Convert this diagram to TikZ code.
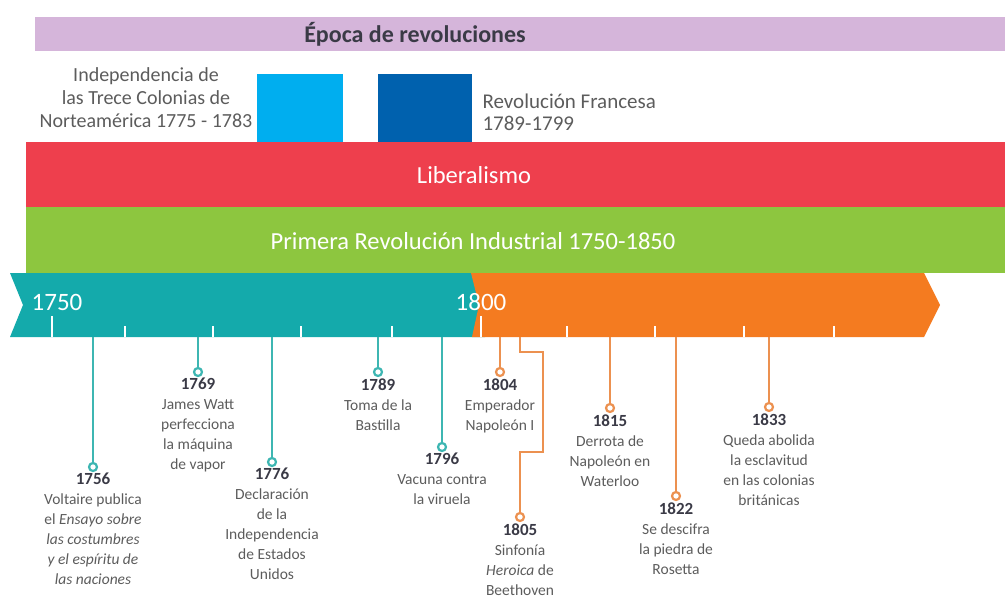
\documentclass[tikz,border=0pt]{standalone}
\usepackage{fontspec}
\setmainfont{Carlito}
\usepackage{tikz}
\usetikzlibrary{positioning}

\definecolor{bandpurple}{HTML}{D5B5DA}
\definecolor{lightblue}{HTML}{00AEEF}
\definecolor{darkblue}{HTML}{0061AE}
\definecolor{bandred}{HTML}{EE3F4D}
\definecolor{bandgreen}{HTML}{8DC63F}
\definecolor{bandteal}{HTML}{14AAAB}
\definecolor{bandorange}{HTML}{F47B20}
\definecolor{lineteal}{HTML}{3DB6B2}
\definecolor{lineorange}{HTML}{EC9150}
\definecolor{textgray}{HTML}{5C5C5C}
\definecolor{yeardark}{HTML}{3A3A46}

\tikzset{
  dot/.style={circle, draw, fill=white, inner sep=0pt, minimum size=8pt, line width=1.6pt},
  evtext/.style={align=center, text=textgray, font=\fontsize{15.5}{20}\selectfont, inner sep=1pt},
  tealline/.style={draw=lineteal, line width=2.2pt},
  orangeline/.style={draw=lineorange, line width=2.2pt},
  bandtext/.style={text=white, font=\fontsize{24.5}{28}\selectfont},
  yeartext/.style={text=white, font=\fontsize{25}{28}\selectfont},
}

\begin{document}
\begin{tikzpicture}[x=1pt,y=-1pt]
\useasboundingbox (0,0) rectangle (1005,615);

% bands
\fill[bandpurple] (35,17) rectangle (1005,51);
\fill[lightblue] (257,74) rectangle (343,142);
\fill[darkblue] (378,74) rectangle (472,142);
\fill[bandred] (26,142) rectangle (1005,207);
\fill[bandgreen] (26,207) rectangle (1005,273);

\node[font=\fontsize{24}{28}\selectfont\bfseries, text=yeardark] (epoca) at (415,34) {Época de revoluciones};
\node[align=center, text=textgray, font=\fontsize{20}{23}\selectfont] (indep) at (146,98)
  {Independencia de\\las Trece Colonias de\\Norteamérica 1775 - 1783};
\node[align=left, text=textgray, font=\fontsize{21}{22}\selectfont, anchor=west] (revfr) at (479,112)
  {Revolución Francesa\\1789-1799};
\node[bandtext] (liberal) at (474,175) {Liberalismo};
\node[bandtext] (industrial) at (473,241) {Primera Revolución Industrial 1750-1850};

% timeline
\fill[bandteal] (10,273) -- (485,273) -- (485,337) -- (10,337) -- (23,305) -- cycle;
\fill[bandorange] (471,273) -- (924,273) -- (940,305) -- (924,337) -- (472,337) -- (479,305) -- cycle;

\foreach \x in {125,213,301,392,567,655,744,834}
   \draw[white, line width=2.4pt] (\x,326) -- (\x,337);
\foreach \x in {52,481}
   \draw[white, line width=2.4pt] (\x,316) -- (\x,337);

\node[yeartext] (y1750) at (57,302) {1750};
\node[yeartext] (y1800) at (481,302) {1800};

% events
\foreach \x/\y/\yr/\ln/\txt in {
  93/467/1756/tealline/{Voltaire publica\\el \textit{Ensayo sobre}\\\textit{las costumbres}\\\textit{y el espíritu de}\\\textit{las naciones}},
  198/372/1769/tealline/{James Watt\\perfecciona\\la máquina\\de vapor},
  272/462/1776/tealline/{Declaración\\de la\\Independencia\\de Estados\\Unidos},
  378/372/1789/tealline/{Toma de la\\Bastilla},
  442/447/1796/tealline/{Vacuna contra\\la viruela},
  500/372/1804/orangeline/{Emperador\\Napoleón I},
  610/408/1815/orangeline/{Derrota de\\Napoleón en\\Waterloo},
  676/496/1822/orangeline/{Se descifra\\la piedra de\\Rosetta},
  769/407/1833/orangeline/{Queda abolida\\la esclavitud\\en las colonias\\británicas}}
{
  \coordinate (t\yr) at (\x,337);
  \node[dot, \ln] (d\yr) at (\x,\y) {};
  \draw[\ln] (t\yr) -- (d\yr);
  \node[evtext, below=0pt of d\yr] (l\yr) {{\color{yeardark}\bfseries\fontsize{17}{20}\selectfont \yr}\\\txt};
}

% 1805 with a bend
\coordinate (t1805) at (520,337);
\node[dot, orangeline] (d1805) at (520,517) {};
\draw[orangeline] (t1805) -- ++(0,15) -- ++(23,0) -- ++(0,100) -- ++(-23,0) -- (d1805);
\node[evtext, below=0pt of d1805] (l1805) {{\color{yeardark}\bfseries\fontsize{17}{20}\selectfont 1805}\\Sinfonía\\\textit{Heroica} de\\Beethoven};

\end{tikzpicture}
\end{document}
